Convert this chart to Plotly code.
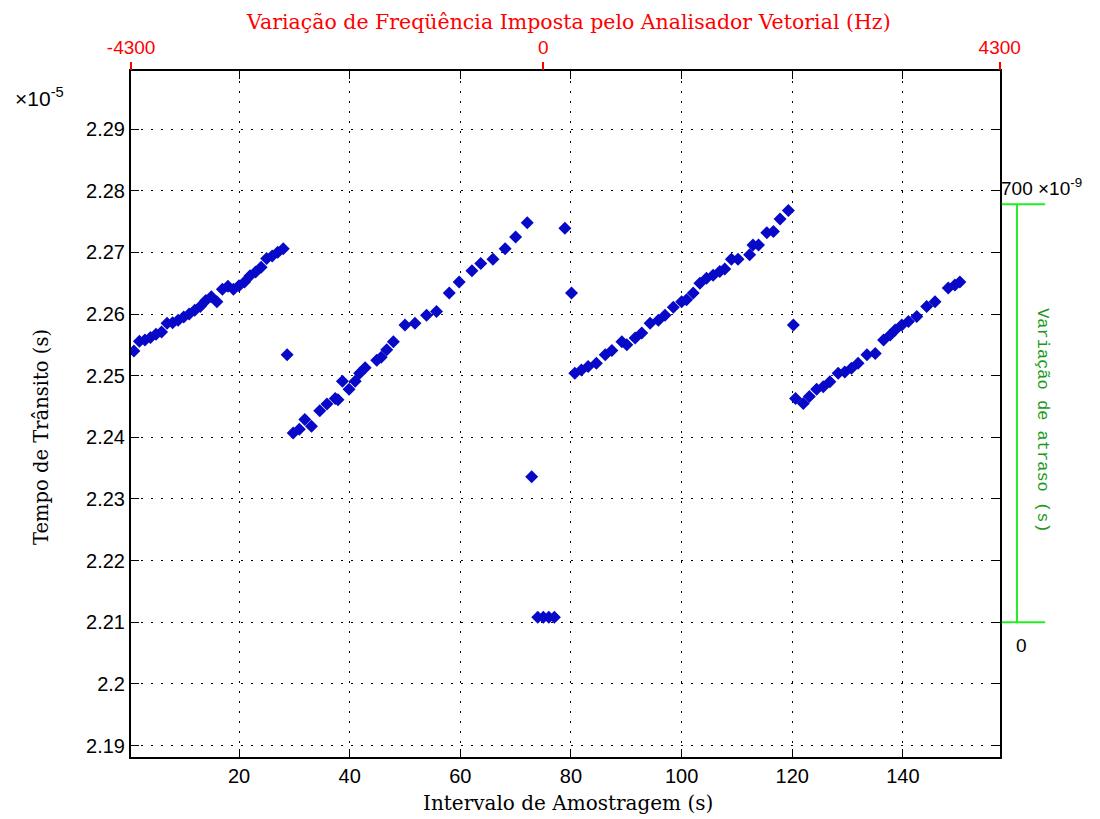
import plotly.graph_objects as go

# ---------------- data ----------------
# Sample time (s) and transit time (x 1e-5 s)
sample_s = [
    1, 2, 3, 4, 5, 6, 7, 8, 9, 10, 11, 12, 13, 14, 15, 16, 17, 18, 19, 20,
    21, 22, 23, 24, 25, 26, 27, 28, 28.7,
    29.8, 30.9, 31.9, 33.1, 34.6, 35.9, 37.4, 37.9, 38.7, 39.9, 41.0, 41.8,
    42.8, 44.9, 45.7, 46.7, 47.9, 50.0, 51.8, 53.9, 55.7, 58.0, 59.8, 62.1,
    63.7, 65.9, 68.1, 70.0, 72.1,
    72.9, 74, 75, 76, 77, 78.9, 80.1,
    80.7, 81.9, 83.1, 84.6, 86.2, 87.4, 89.2, 90.1, 91.6, 92.8, 94.3, 95.8,
    97.0, 98.5, 100.0, 100.9, 102.1, 103.3, 104.5, 105.7, 106.9, 107.8,
    109.0, 110.2, 112.3, 112.9, 113.9, 115.4, 116.6, 117.8, 119.3,
    120.2,
    120.6, 122.0, 123.1, 124.4, 125.6, 126.8, 128.3, 129.5, 130.7, 131.9,
    133.5, 135.0, 136.5, 137.7, 138.6, 139.8, 141.0, 142.5, 144.3, 145.8,
    148.2, 149.4, 150.3,
]
transit_e5 = [
    2.2540, 2.2556, 2.2558, 2.2562, 2.2567, 2.2571, 2.2585, 2.2586, 2.2590,
    2.2595, 2.2600, 2.2606, 2.2612, 2.2622, 2.2628, 2.2620, 2.2640, 2.2645,
    2.2640, 2.2646, 2.2652, 2.2662, 2.2668, 2.2676, 2.2690, 2.2694, 2.2700,
    2.2706, 2.2534,
    2.2407, 2.2413, 2.2429, 2.2418, 2.2443, 2.2454, 2.2463, 2.2461, 2.2491,
    2.2478, 2.2491, 2.2504, 2.2513, 2.2525, 2.2530, 2.2542, 2.2555, 2.2582,
    2.2585, 2.2598, 2.2604, 2.2634, 2.2652, 2.2670, 2.2682, 2.2689, 2.2706,
    2.2725, 2.2748,
    2.2336, 2.2108, 2.2108, 2.2108, 2.2108, 2.2739, 2.2634,
    2.2504, 2.2509, 2.2515, 2.2520, 2.2534, 2.2541, 2.2555, 2.2550, 2.2561,
    2.2569, 2.2585, 2.2590, 2.2598, 2.2611, 2.2620, 2.2623, 2.2634, 2.2650,
    2.2658, 2.2663, 2.2669, 2.2673, 2.2689, 2.2689, 2.2696, 2.2712, 2.2712,
    2.2732, 2.2734, 2.2754, 2.2768,
    2.2582,
    2.2463, 2.2455, 2.2466, 2.2478, 2.2482, 2.2490, 2.2504, 2.2506, 2.2512,
    2.2520, 2.2534, 2.2536, 2.2558, 2.2566, 2.2574, 2.2582, 2.2588, 2.2596,
    2.2612, 2.2620, 2.2642, 2.2647, 2.2652,
]

x_ticks = [20, 40, 60, 80, 100, 120, 140]
y_ticks = [2.19, 2.20, 2.21, 2.22, 2.23, 2.24, 2.25, 2.26, 2.27, 2.28, 2.29]
y_tick_text = ["2.19", "2.2", "2.21", "2.22", "2.23", "2.24", "2.25",
               "2.26", "2.27", "2.28", "2.29"]

# top (frequency) axis: labels and where they sit on the sample axis
freq_tick_text = ["-4300", "0", "4300"]
freq_tick_pos = [0.5, 75, 157.5]

# right (delay) scale: 0 .. 700e-9 drawn against the transit axis
delay_labels = ["0", "700 \u00d710<sup>-9</sup>"]
delay_span = [2.21, 2.2778]

X_RANGE = [0.48, 157.55]
Y_RANGE = [2.18814, 2.29942]

# ---------------- figure ----------------
SANS = "Liberation Sans, Arial, sans-serif"
SERIF = "DejaVu Serif, serif"
MONO = "Liberation Mono, Courier New, monospace"
BLUE = "rgb(8,8,200)"
RED = "#ff0000"
GREEN_LINE = "#22ee22"
GREEN_TEXT = "#1a9a1a"

fig = go.Figure()
fig.add_trace(go.Scatter(
    x=sample_s, y=transit_e5, mode="markers",
    marker=dict(symbol="diamond", size=10, color=BLUE, line=dict(width=0)),
    showlegend=False, hoverinfo="x+y",
))
# invisible trace to activate the top axis
fig.add_trace(go.Scatter(x=[freq_tick_pos[1]], y=[Y_RANGE[0]], xaxis="x2",
                         mode="markers", marker=dict(opacity=0),
                         showlegend=False, hoverinfo="skip"))

grid = dict(showgrid=True, gridcolor="black", gridwidth=1, griddash="2px,8px")

# page body has an 8px margin: figure is sized so the plot area lands
# at x 131..1000, y 71..757 in the window
fig.update_layout(
    width=1092, height=811,
    margin=dict(l=123, r=100, t=63, b=62),
    paper_bgcolor="white", plot_bgcolor="white",
    xaxis=dict(
        range=X_RANGE, tickvals=x_ticks, ticks="inside", ticklen=8,
        tickcolor="black", showline=True, linecolor="black", linewidth=2,
        mirror="ticks", zeroline=False,
        tickfont=dict(family=SANS, size=20, color="black"),
        **grid,
    ),
    yaxis=dict(
        range=Y_RANGE, tickvals=y_ticks, ticktext=y_tick_text,
        ticks="inside", ticklen=8, tickcolor="black",
        showline=True, linecolor="black", linewidth=2, mirror="ticks",
        zeroline=False,
        tickfont=dict(family=SANS, size=20, color="black"),
        **grid,
    ),
    xaxis2=dict(
        overlaying="x", side="top", anchor="y", range=X_RANGE,
        tickvals=freq_tick_pos, ticktext=freq_tick_text,
        ticks="outside", ticklen=8, tickcolor=RED, tickwidth=1.5,
        showline=False, showgrid=False, zeroline=False,
        tickfont=dict(family=SANS, size=19, color=RED),
    ),
)

# delay scale (right side) drawn as decoration
fig.add_shape(type="line", xref="paper", yref="y", x0=1.0195, x1=1.0195,
              y0=delay_span[0], y1=delay_span[1],
              line=dict(color=GREEN_LINE, width=2))
for yv in delay_span:
    fig.add_shape(type="line", xref="paper", yref="y", x0=1.002, x1=1.052,
                  y0=yv, y1=yv, line=dict(color=GREEN_LINE, width=2))

annotations = [
    dict(text=delay_labels[1], x=0.999, y=0.831, xanchor="left",
         yanchor="middle", font=dict(family=SANS, size=19, color="black")),
    dict(text=delay_labels[0], x=1.0245, y=0.163, xanchor="center",
         yanchor="middle", font=dict(family=SANS, size=19, color="black")),
    dict(text="Varia\u00e7\u00e3o de atraso (s)", x=1.0495, y=0.491,
         textangle=90, xanchor="center", yanchor="middle",
         font=dict(family=MONO, size=17, color=GREEN_TEXT)),
    dict(text="\u00d710<sup>-5</sup>", x=-0.136, y=0.962, xanchor="left",
         yanchor="middle", font=dict(family=SANS, size=21, color="black")),
    dict(text="Tempo de Tr\u00e2nsito (s)", x=-0.1025, y=0.4665,
         textangle=-90, xanchor="center", yanchor="middle",
         font=dict(family=SERIF, size=19.5, color="black")),
    dict(text="Intervalo de Amostragem (s)", x=0.503, y=-0.067,
         xanchor="center", yanchor="middle",
         font=dict(family=SERIF, size=20, color="black")),
    dict(text="Varia\u00e7\u00e3o de Freq\u00fc\u00eancia Imposta pelo Analisador Vetorial (Hz)",
         x=0.503, y=1.071, xanchor="center", yanchor="middle",
         font=dict(family=SERIF, size=20.5, color=RED)),
]
for a in annotations:
    a.update(xref="paper", yref="paper", showarrow=False)
    fig.add_annotation(**a)

fig.write_html("out.html")
